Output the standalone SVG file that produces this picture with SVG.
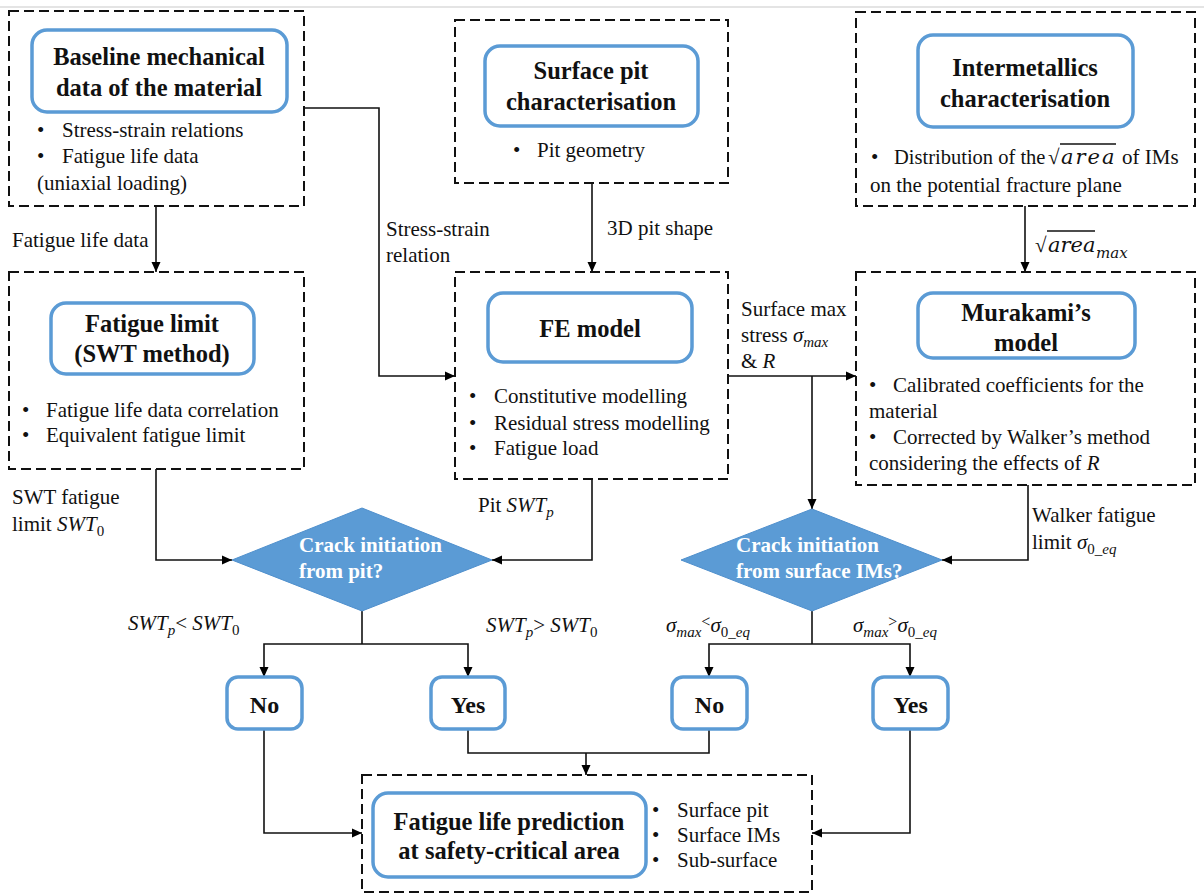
<svg xmlns="http://www.w3.org/2000/svg" width="1204" height="896" viewBox="0 0 1204 896">
<defs>
<marker id="arr" viewBox="0 0 10 10" refX="10" refY="5" markerWidth="10" markerHeight="10" markerUnits="userSpaceOnUse" orient="auto">
<path d="M0,0.5 L10,5 L0,9.5 Z" fill="#000"/>
</marker>
<style>
text{font-family:'Liberation Serif',Tinos,'Times New Roman','DejaVu Serif',serif}
.dash{fill:#fff;stroke:#111;stroke-width:2;stroke-dasharray:10 5}
.rb{fill:#fff;stroke:#5b9bd5;stroke-width:3.5}
.dia{fill:#5b9bd5;stroke:#4f8fcc;stroke-width:1}
.t{font-weight:bold;font-size:24.5px;fill:#111;text-anchor:middle}
.b{font-size:21px;fill:#111}
.w{font-weight:bold;font-size:21px;fill:#fff}
.yn{font-weight:bold;font-size:24px;fill:#111;text-anchor:middle}
.i{font-style:italic}
.mi{font-family:'DejaVu Serif',serif;font-style:italic}
.c{fill:none;stroke:#111;stroke-width:1.6}
.ca{fill:none;stroke:#111;stroke-width:1.6;marker-end:url(#arr)}
</style>
</defs>
<rect x="0" y="0" width="1204" height="896" fill="#fff"/>
<rect x="0" y="6" width="1204" height="2" fill="#e4e4e4"/>

<g id="connectors">
<path class="ca" d="M304,108 H379 V376 H455"/>
<path class="ca" d="M156,206 V272"/>
<path class="ca" d="M592,183 V272"/>
<path class="ca" d="M1025,206 V272"/>
<path class="ca" d="M728,376 H856"/>
<path class="ca" d="M812,376 V509"/>
<path class="ca" d="M156,469 V560 H232"/>
<path class="ca" d="M592,479 V560 H492"/>
<path class="ca" d="M1028,485 V560 H942"/>
<path class="c" d="M362,611 V644"/>
<path class="ca" d="M362,644 H264 V677"/>
<path class="ca" d="M362,644 H468 V677"/>
<path class="c" d="M812,611 V644"/>
<path class="ca" d="M812,644 H709 V677"/>
<path class="ca" d="M812,644 H910 V677"/>
<path class="ca" d="M264,729 V833 H362"/>
<path class="c" d="M468,729 V753 H709 V729"/>
<path class="ca" d="M586,753 V775"/>
<path class="ca" d="M910,729 V833 H812"/>
<text class="b" x="12" y="247">Fatigue life data</text>
<text class="b" x="386" y="236">Stress-strain</text>
<text class="b" x="386" y="262">relation</text>
<text class="b" x="607" y="235">3D pit shape</text>
<line x1="1047" y1="231" x2="1095" y2="231" stroke="#111" stroke-width="1.3"/>
<text class="b" x="1035" y="252">√<tspan class="mi" x="1048">area</tspan><tspan class="mi" x="1096" dy="6" font-size="15">max</tspan></text>
<text class="b" x="741" y="316">Surface max</text>
<text class="b" x="741" y="342">stress <tspan class="i">σ</tspan><tspan class="i" font-size="15" dy="5">max</tspan></text>
<text class="b" x="741" y="368">&amp; <tspan class="i">R</tspan></text>
<text class="b" x="12" y="504">SWT fatigue</text>
<text class="b" x="12" y="531">limit <tspan class="i">SWT</tspan><tspan font-size="15" dy="5">0</tspan></text>
<text class="b" x="478" y="512">Pit <tspan class="i">SWT</tspan><tspan class="i" font-size="15" dy="5">p</tspan></text>
<text class="b" x="1032" y="522">Walker fatigue</text>
<text class="b" x="1032" y="549">limit <tspan class="i">σ</tspan><tspan font-size="15" dy="5">0</tspan><tspan class="i" font-size="15">_eq</tspan></text>
<text class="b" x="128" y="630"><tspan class="i">SWT</tspan><tspan class="i" font-size="15" dy="5">p</tspan><tspan dy="-5">&lt; </tspan><tspan class="i">SWT</tspan><tspan font-size="15" dy="5">0</tspan></text>
<text class="b" x="486" y="632"><tspan class="i">SWT</tspan><tspan class="i" font-size="15" dy="5">p</tspan><tspan dy="-5">&gt; </tspan><tspan class="i">SWT</tspan><tspan font-size="15" dy="5">0</tspan></text>
<text class="b" x="666" y="632"><tspan class="i">σ</tspan><tspan class="i" font-size="15" dy="5">max</tspan><tspan dy="-10" font-size="16">&lt;</tspan><tspan class="i" dy="5">σ</tspan><tspan font-size="15" dy="5">0</tspan><tspan class="i" font-size="15">_eq</tspan></text>
<text class="b" x="853" y="632"><tspan class="i">σ</tspan><tspan class="i" font-size="15" dy="5">max</tspan><tspan dy="-10" font-size="16">&gt;</tspan><tspan class="i" dy="5">σ</tspan><tspan font-size="15" dy="5">0</tspan><tspan class="i" font-size="15">_eq</tspan></text>
</g>

<g id="baseline">
<rect class="dash" x="9" y="11" width="295" height="195"/>
<rect class="rb" x="32" y="30" width="255" height="82" rx="15"/>
<text class="t" x="159" y="65">Baseline mechanical</text>
<text class="t" x="159" y="96">data of the material</text>
<text class="b" x="37" y="137">•</text><text class="b" x="62" y="137">Stress-strain relations</text>
<text class="b" x="37" y="163">•</text><text class="b" x="62" y="163">Fatigue life data</text>
<text class="b" x="37" y="190">(uniaxial loading)</text>
</g>

<g id="surface-pit">
<rect class="dash" x="455" y="20" width="273" height="163"/>
<rect class="rb" x="485" y="46" width="213" height="80" rx="15"/>
<text class="t" x="591" y="79">Surface pit</text>
<text class="t" x="591" y="110">characterisation</text>
<text class="b" x="513" y="157">•</text><text class="b" x="537" y="157">Pit geometry</text>
</g>

<g id="intermetallics">
<rect class="dash" x="856" y="12" width="339" height="194"/>
<rect class="rb" x="918" y="35" width="215" height="92" rx="15"/>
<text class="t" x="1025" y="76">Intermetallics</text>
<text class="t" x="1025" y="107">characterisation</text>
<line x1="1060" y1="144" x2="1116" y2="144" stroke="#111" stroke-width="1.3"/>
<text class="b" x="871" y="164">•<tspan x="894" font-size="20.5">Distribution of the</tspan><tspan x="1048">√</tspan><tspan class="mi" x="1061" style="letter-spacing:2px">area</tspan><tspan x="1122">of IMs</tspan></text>
<text class="b" x="870" y="192">on the potential fracture plane</text>
</g>

<g id="fatigue-limit">
<rect class="dash" x="9" y="272" width="295" height="197"/>
<rect class="rb" x="51" y="303" width="203" height="71" rx="15"/>
<text class="t" x="152" y="332">Fatigue limit</text>
<text class="t" x="152" y="362">(SWT method)</text>
<text class="b" x="22" y="417">•</text><text class="b" x="46" y="417">Fatigue life data correlation</text>
<text class="b" x="22" y="442">•</text><text class="b" x="46" y="442">Equivalent fatigue limit</text>
</g>

<g id="fe-model">
<rect class="dash" x="455" y="272" width="273" height="207"/>
<rect class="rb" x="488" y="293" width="204" height="69" rx="15"/>
<text class="t" x="590" y="337">FE model</text>
<text class="b" x="469" y="403">•</text><text class="b" x="494" y="403">Constitutive modelling</text>
<text class="b" x="469" y="430">•</text><text class="b" x="494" y="430">Residual stress modelling</text>
<text class="b" x="469" y="455">•</text><text class="b" x="494" y="455">Fatigue load</text>
</g>

<g id="murakami">
<rect class="dash" x="856" y="272" width="339" height="213"/>
<rect class="rb" x="918" y="293" width="217" height="65" rx="15"/>
<text class="t" x="1026" y="321">Murakami’s</text>
<text class="t" x="1026" y="351">model</text>
<text class="b" x="869" y="392">•</text><text class="b" x="893" y="392">Calibrated coefficients for the</text>
<text class="b" x="869" y="418">material</text>
<text class="b" x="869" y="444">•</text><text class="b" x="893" y="444">Corrected by Walker’s method</text>
<text class="b" x="869" y="470">considering the effects of <tspan class="i">R</tspan></text>
</g>

<g id="decision-pit">
<polygon class="dia" points="232,560 362,508 492,560 362,611"/>
<text class="w" x="299" y="552">Crack initiation</text>
<text class="w" x="299" y="578">from pit?</text>
</g>

<g id="decision-ims">
<polygon class="dia" points="681,560 812,509 942,560 812,611"/>
<text class="w" x="736" y="552">Crack initiation</text>
<text class="w" x="736" y="578">from surface IMs?</text>
</g>

<g id="no-pit">
<rect class="rb" x="227" y="677" width="75" height="52" rx="11"/>
<text class="yn" x="264.5" y="713">No</text>
</g>
<g id="yes-pit">
<rect class="rb" x="431" y="677" width="74" height="52" rx="11"/>
<text class="yn" x="468" y="713">Yes</text>
</g>
<g id="no-ims">
<rect class="rb" x="672" y="677" width="75" height="52" rx="11"/>
<text class="yn" x="709.5" y="713">No</text>
</g>
<g id="yes-ims">
<rect class="rb" x="873" y="677" width="75" height="52" rx="11"/>
<text class="yn" x="910.5" y="713">Yes</text>
</g>

<g id="prediction">
<rect class="dash" x="362" y="775" width="450" height="117"/>
<rect class="rb" x="373" y="793" width="273" height="84" rx="15"/>
<text class="t" x="509" y="830">Fatigue life prediction</text>
<text class="t" x="509" y="859">at safety-critical area</text>
<text class="b" x="652" y="817">•</text><text class="b" x="677" y="817">Surface pit</text>
<text class="b" x="652" y="842">•</text><text class="b" x="677" y="842">Surface IMs</text>
<text class="b" x="652" y="867">•</text><text class="b" x="677" y="867">Sub-surface</text>
</g>
</svg>
